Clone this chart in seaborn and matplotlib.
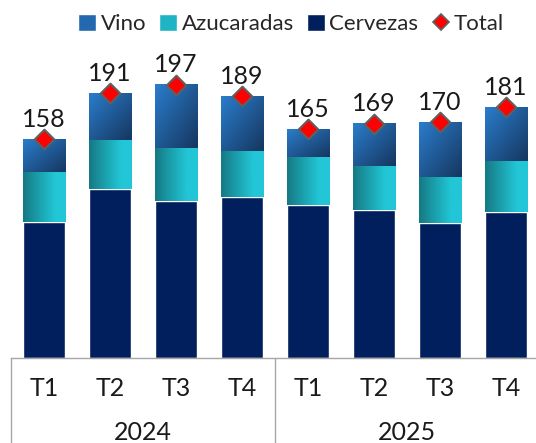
import numpy as np
import pandas as pd
import matplotlib
matplotlib.use("Agg")
import matplotlib.pyplot as plt
from matplotlib.patches import Patch
from matplotlib.lines import Line2D
from matplotlib.colors import to_rgb
import seaborn as sns

# datos
periodos = ["2024-T1", "2024-T2", "2024-T3", "2024-T4",
            "2025-T1", "2025-T2", "2025-T3", "2025-T4"]
trimestres = ["T1", "T2", "T3", "T4", "T1", "T2", "T3", "T4"]
anios = ["2024", "2025"]
cervezas = [98.1, 121.9, 113.3, 116.2, 110.4, 106.8, 97.4, 105.3]
azucaradas = [36.1, 35.4, 38.2, 33.2, 34.6, 31.7, 33.2, 36.8]
vino = [23.8, 33.7, 45.5, 39.6, 20.0, 30.5, 39.4, 38.9]
total = [158, 191, 197, 189, 165, 169, 170, 181]

sns.set_style("white")
plt.rcParams["font.family"] = ["Lato", "DejaVu Sans"]

df = pd.DataFrame({"periodo": periodos, "cervezas": cervezas,
                   "azucaradas": azucaradas, "vino": vino, "total": total})
base_vino = (df["cervezas"] + df["azucaradas"]).values

fig = plt.figure(figsize=(5.36, 4.43), dpi=100)
ax = fig.add_axes([11 / 536, 85 / 443, 528 / 536, 358 / 443])

sns.barplot(data=df, x="periodo", y="cervezas", color="#001f5c",
            saturation=1, width=0.64, ax=ax, zorder=2)
sns.barplot(data=df, x="periodo", y="azucaradas", color="#1fb4c4",
            saturation=1, width=0.64, bottom=df["cervezas"].values,
            ax=ax, zorder=2)
sns.barplot(data=df, x="periodo", y="vino", color="#2468b0",
            saturation=1, width=0.64, bottom=base_vino, ax=ax, zorder=2)


def gradiente(c0, c1, n=60, diagonal=False):
    c0, c1 = np.array(to_rgb(c0)), np.array(to_rgb(c1))
    u = np.linspace(0, 1, n)
    if diagonal:
        t = (u[None, :] + u[:, None]) / 2
    else:
        t = np.clip(u / 0.75, 0, 1)[None, :].repeat(n, axis=0)
    return c0 + (c1 - c0) * t[..., None]


grad_azu = gradiente("#157a84", "#22c6d6")
grad_vino = gradiente("#2a7dcc", "#16365f", diagonal=True)

for cont, grad in [(ax.containers[1], grad_azu), (ax.containers[2], grad_vino)]:
    for p in cont.patches:
        x, y, w, h = p.get_x(), p.get_y(), p.get_width(), p.get_height()
        ax.imshow(grad, extent=[x, x + w, y, y + h], origin="upper",
                  aspect="auto", interpolation="bilinear", zorder=2.5)
        p.set_visible(False)

# marcadores del total
sns.scatterplot(x=np.arange(len(total)), y=total, marker="D", s=100,
                color="#ff0000", edgecolor="#606060", linewidth=1.5,
                ax=ax, zorder=5, legend=False)
for i, v in enumerate(total):
    ax.annotate(str(v), (i, v), xytext=(0, 9), textcoords="offset points",
                ha="center", va="baseline", fontsize=18, color="#1a1a1a",
                zorder=6)

ax.set_xlim(-0.5, 7.5)
ax.set_ylim(0, 258.3)
ax.set_xlabel("")
ax.set_ylabel("")
ax.set_yticks([])
ax.set_xticks(range(len(trimestres)))
ax.set_xticklabels(trimestres, fontsize=18, color="#1a1a1a")
ax.tick_params(axis="x", length=0, pad=14)
for s in ["top", "right", "left"]:
    ax.spines[s].set_visible(False)
ax.spines["bottom"].set_color("#a6a6a6")
ax.spines["bottom"].set_linewidth(1)

# separadores y etiquetas de anio
tr = ax.get_xaxis_transform()
for xs in [-0.5, 3.5, 7.5]:
    ax.plot([xs, xs], [0, -0.3], transform=tr, color="#a6a6a6",
            linewidth=1, clip_on=False)
for k, anio in enumerate(anios):
    ax.text(1.5 + 4 * k, -75 / 358, anio, transform=tr, ha="center",
            va="center", fontsize=18, color="#1a1a1a")

handles = [Patch(facecolor="#2468b0", label="Vino"),
           Patch(facecolor="#1fb4c4", label="Azucaradas"),
           Patch(facecolor="#001f5c", label="Cervezas"),
           Line2D([], [], marker="D", linestyle="none", markersize=8,
                  markerfacecolor="#ff0000", markeredgecolor="#606060",
                  markeredgewidth=1.2, label="Total")]
fig.legend(handles=handles, loc="center right",
           bbox_to_anchor=(504 / 536, 1 - 24 / 443), ncol=4, frameon=False,
           fontsize=16, handlelength=0.8, handleheight=0.8,
           handletextpad=0.2, columnspacing=0.6, borderpad=0,
           borderaxespad=0)

fig.savefig("out.png", dpi=100)
